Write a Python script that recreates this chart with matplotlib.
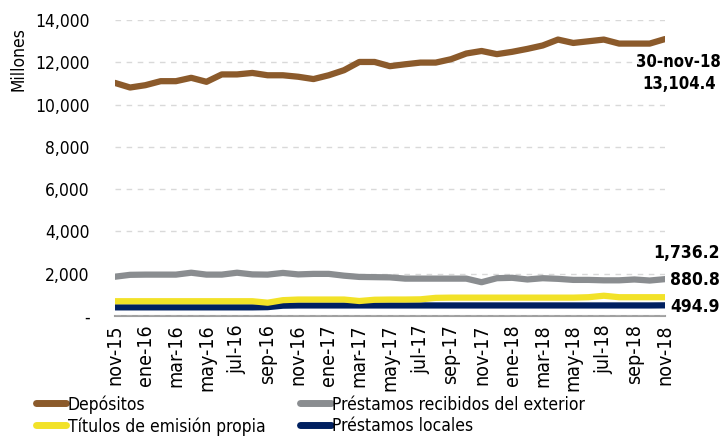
import numpy as np
import matplotlib.pyplot as plt
from matplotlib.lines import Line2D
from matplotlib.ticker import FuncFormatter

plt.rcParams['font.family'] = ['DejaVu Sans']
plt.rcParams['font.stretch'] = 'condensed'

nombres_mes = ['ene', 'feb', 'mar', 'abr', 'may', 'jun', 'jul', 'ago', 'sep', 'oct', 'nov', 'dic']
fechas = []
for k in range(37):
    m = (10 + k) % 12
    a = 15 + (10 + k) // 12
    fechas.append(f"{nombres_mes[m]}-{a}")

depositos = [11030, 10810, 10920, 11110, 11110, 11270, 11080, 11430, 11430, 11500,
             11390, 11390, 11320, 11210, 11390, 11630, 12020, 12020, 11820, 11910,
             11990, 11990, 12150, 12420, 12540, 12390, 12500, 12640, 12800, 13080,
             12920, 13000, 13080, 12890, 12890, 12890, 13104.4]
exterior = [1850, 1940, 1950, 1950, 1950, 2040, 1950, 1950, 2040, 1960,
            1950, 2030, 1960, 1985, 1985, 1900, 1840, 1830, 1820, 1760,
            1760, 1760, 1760, 1760, 1590, 1780, 1800, 1720, 1780, 1750,
            1700, 1700, 1680, 1680, 1720, 1670, 1736.2]
titulos = [690, 690, 690, 690, 690, 690, 690, 690, 690, 690,
           620, 740, 770, 770, 770, 770, 700, 760, 770, 770,
           780, 850, 860, 860, 860, 860, 860, 860, 860, 860,
           860, 880, 950, 880, 880, 880, 880.8]
locales = [400, 400, 400, 400, 400, 400, 400, 400, 400, 400,
           410, 480, 490, 490, 490, 490, 490, 490, 490, 490,
           490, 490, 490, 490, 490, 490, 490, 490, 490, 490,
           490, 490, 490, 490, 490, 490, 494.9]

c_dep = '#8B5A2B'
c_ext = '#8A8D90'
c_tit = '#F2E228'
c_loc = '#002060'

fig = plt.figure(figsize=(7.22, 4.38), dpi=100)
ax = fig.add_axes([0.159, 0.279, 0.762, 0.675])

x = np.arange(len(fechas))
ax.plot(x, locales, color=c_loc, lw=4.5, solid_capstyle='round')
ax.plot(x, titulos, color=c_tit, lw=4.5, solid_capstyle='round')
ax.plot(x, exterior, color=c_ext, lw=4.5, solid_capstyle='round')
ax.plot(x, depositos, color=c_dep, lw=4.5, solid_capstyle='round')

ax.set_xlim(0, 36)
ax.set_ylim(0, 14000)
ax.set_yticks(range(0, 14001, 2000))
ax.yaxis.set_major_formatter(FuncFormatter(lambda v, p: '-' if v == 0 else f'{v:,.0f}'))
ax.set_xticks(x[::2])
ax.set_xticklabels(fechas[::2], rotation=90, fontsize=14)
ax.tick_params(axis='y', labelsize=12.5, length=0, pad=18)
ax.tick_params(axis='x', length=0, pad=6)
ax.grid(axis='y', color='#D9D9D9', ls=(0, (4, 4)), lw=1)
ax.set_axisbelow(True)
for s in ['top', 'right', 'left']:
    ax.spines[s].set_visible(False)
ax.spines['bottom'].set_color('#A0A0A0')
ax.spines['bottom'].set_linewidth(1.5)
ax.spines['bottom'].set_zorder(0)

fig.text(0.025, 0.865, 'Millones', rotation=90, fontsize=12.5, ha='center', va='center')

fig.text(0.940, 0.858, '30-nov-18', ha='center', va='center', fontsize=12, fontweight='bold')
fig.text(0.940, 0.808, '13,104.4', ha='center', va='center', fontsize=12, fontweight='bold')
fig.text(0.997, 0.422, '1,736.2', ha='right', va='center', fontsize=12.5, fontweight='bold')
fig.text(0.997, 0.360, '880.8', ha='right', va='center', fontsize=12.5, fontweight='bold')
fig.text(0.997, 0.298, '494.9', ha='right', va='center', fontsize=12.5, fontweight='bold')

handles = [Line2D([], [], color=c, lw=5, solid_capstyle='round') for c in [c_dep, c_tit, c_ext, c_loc]]
labels = ['Depósitos', 'Títulos de emisión propia', 'Préstamos recibidos del exterior', 'Préstamos locales']
fig.legend(handles, labels, ncol=2, loc='lower left', bbox_to_anchor=(0.028, -0.03),
           frameon=False, fontsize=12.5, handlelength=1.75, handletextpad=0.1,
           columnspacing=2.0, labelspacing=0.2)

fig.savefig('out.png', dpi=100)
